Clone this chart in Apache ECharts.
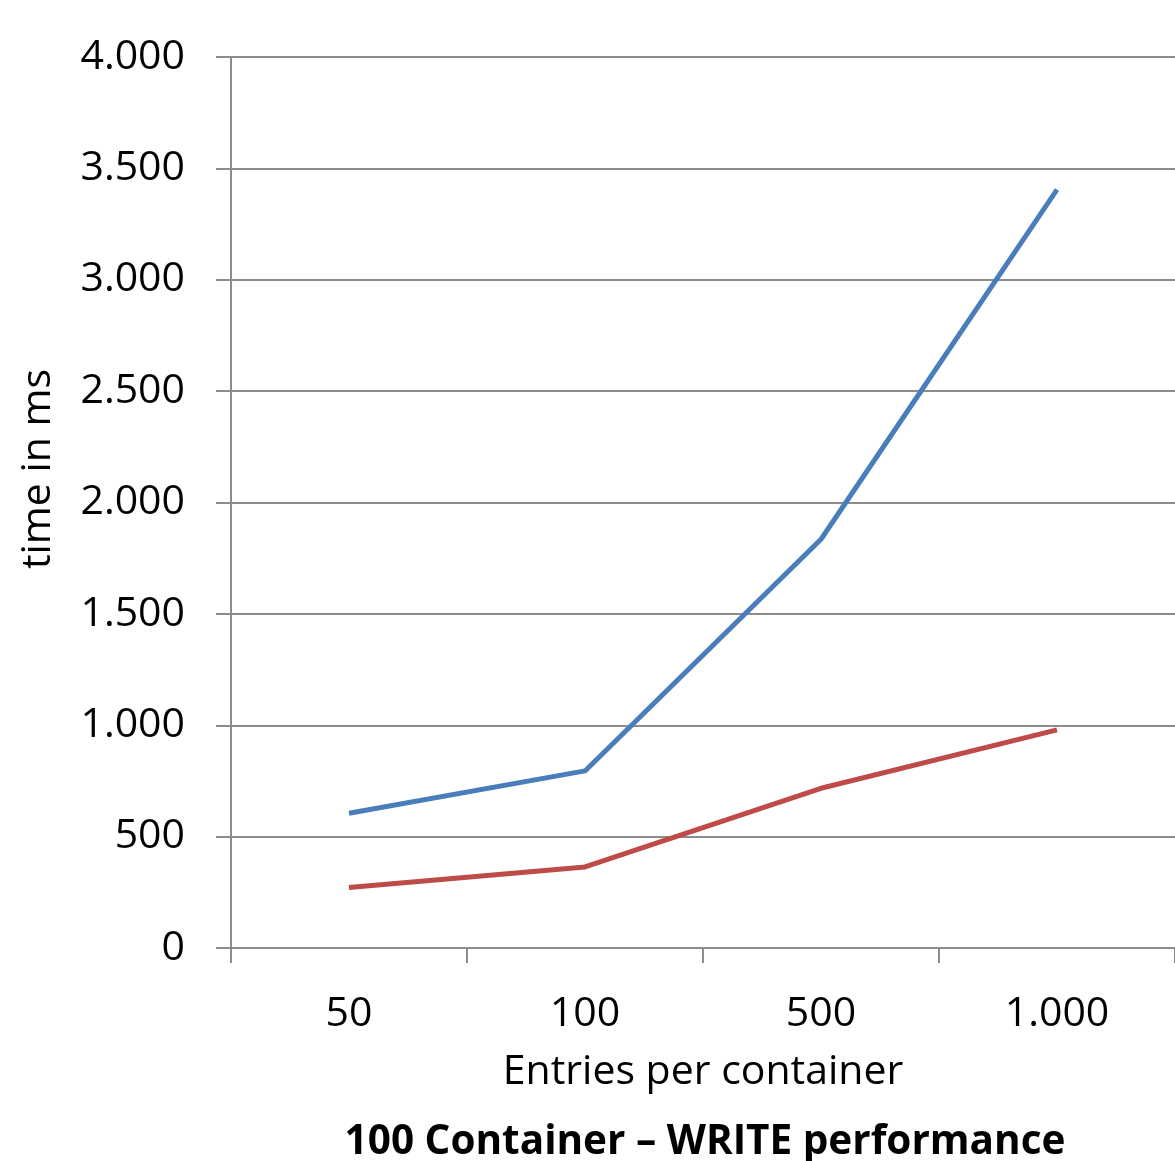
<!DOCTYPE html>
<html>
<head>
<meta charset="utf-8">
<style>
  html, body { margin: 0; padding: 0; background: #fff; }
  #chart { width: 1175px; height: 1161px; }
</style>
<script src="https://cdn.jsdelivr.net/npm/echarts@6/dist/echarts.min.js"></script>
</head>
<body>
<div id="chart"></div>
<script>
// Entries per container (x categories)
const categories = ['50', '100', '500', '1.000'];
// Write times in ms
const seriesBlue = [605, 795, 1835, 3405];
const seriesRed = [272, 364, 717, 979];
// Value axis range
const yMin = 0, yMax = 4000, yStep = 500;

const FONT = 'Open Sans';
const FONT_SIZE = 41;
const AXIS_GRAY = '#8c8c8c';

function thousands(v) {
  return String(v).replace(/\B(?=(\d{3})+(?!\d))/g, '.');
}

const chart = echarts.init(document.getElementById('chart'));
chart.setOption({
  animation: false,
  backgroundColor: '#ffffff',
  title: {
    text: '100 Container \u2013 WRITE performance',
    left: 700,
    textAlign: 'center',
    top: 1117,
    textStyle: { fontFamily: FONT, fontWeight: 'bold', fontSize: 40.5, color: '#000' }
  },
  grid: { left: 231, right: 0, top: 57, bottom: 213, containLabel: false },
  xAxis: {
    type: 'category',
    data: categories,
    boundaryGap: true,
    name: 'Entries per container',
    nameLocation: 'middle',
    nameGap: 104,
    nameTextStyle: { fontFamily: FONT, fontSize: FONT_SIZE, color: '#000' },
    axisLine: { show: true, lineStyle: { color: AXIS_GRAY, width: 2 } },
    axisTick: { show: true, length: 15, lineStyle: { color: AXIS_GRAY, width: 2 } },
    axisLabel: { fontFamily: FONT, fontSize: FONT_SIZE, color: '#000', margin: 46 },
    splitLine: { show: false }
  },
  yAxis: {
    type: 'value',
    min: yMin,
    max: yMax,
    interval: yStep,
    axisLine: { show: true, lineStyle: { color: AXIS_GRAY, width: 2 } },
    axisTick: { show: true, length: 15, lineStyle: { color: AXIS_GRAY, width: 2 } },
    axisLabel: { fontFamily: FONT, fontSize: FONT_SIZE, color: '#000', margin: 46, formatter: thousands },
    splitLine: { show: true, lineStyle: { color: AXIS_GRAY, width: 2 } }
  },
  graphic: [{
    type: 'text',
    x: 38,
    y: 469,
    rotation: Math.PI / 2,
    style: {
      text: 'time in ms',
      fontFamily: FONT,
      fontSize: FONT_SIZE,
      fill: '#000',
      align: 'center',
      verticalAlign: 'middle'
    }
  }],
  series: [
    {
      type: 'line',
      data: seriesBlue,
      showSymbol: false,
      symbol: 'none',
      lineStyle: { color: '#4a7ebb', width: 5 },
      itemStyle: { color: '#4a7ebb' }
    },
    {
      type: 'line',
      data: seriesRed,
      showSymbol: false,
      symbol: 'none',
      lineStyle: { color: '#be4b48', width: 5 },
      itemStyle: { color: '#be4b48' }
    }
  ]
});
</script>
</body>
</html>
